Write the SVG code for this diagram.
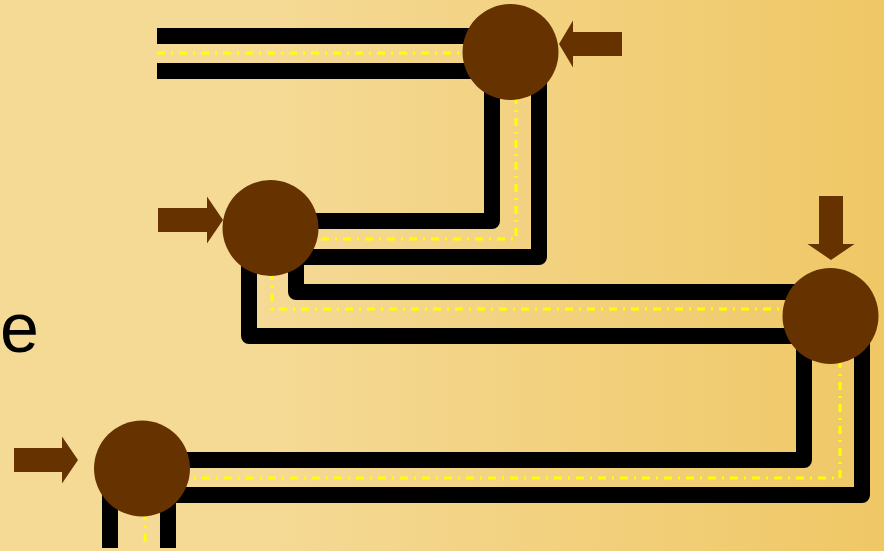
<svg xmlns="http://www.w3.org/2000/svg" width="884" height="551" viewBox="0 0 884 551">
  <defs>
    <linearGradient id="bg" x1="0" y1="0" x2="884" y2="0" gradientUnits="userSpaceOnUse">
      <stop offset="0" stop-color="#F5DA95"/>
      <stop offset="0.3" stop-color="#F5DA96"/>
      <stop offset="1" stop-color="#EFC765"/>
    </linearGradient>
    <style>
      .wall { fill: none; stroke: #000000; stroke-width: 16; stroke-linejoin: round; stroke-linecap: butt; }
      .axis { fill: none; stroke: #FFFF00; stroke-width: 3; stroke-dasharray: 8 6 2 6; }
      .node { fill: #663300; }
      .arrow { fill: #663300; }
      .label { font-family: "Liberation Sans", Arial, sans-serif; font-size: 70px; fill: #000000; }
    </style>
  </defs>
  <rect x="0" y="0" width="884" height="551" fill="url(#bg)"/>
  <text class="label" x="0" y="352">e</text>
  <g id="connectors">
    <!-- top pipe -->
    <path class="wall" d="M157 36 H511"/>
    <path class="wall" d="M157 71 H511"/>
    <path class="axis" d="M157 53 H511"/>
    <!-- pipe 1: top node to node 2 -->
    <path class="wall" d="M492 52 V221 H270"/>
    <path class="wall" d="M539 52 V257 H270"/>
    <path class="axis" d="M516 52 V239 H270"/>
    <!-- pipe 2: node 2 to node 3 -->
    <path class="wall" d="M296 228 V292 H830"/>
    <path class="wall" d="M249 228 V336 H830"/>
    <path class="axis" d="M272 228 V309 H830"/>
    <!-- pipe 3: node 3 to node 4 -->
    <path class="wall" d="M804 316 V460 H142"/>
    <path class="wall" d="M862 316 V495 H142"/>
    <path class="axis" d="M840 316 V478 H142"/>
    <!-- bottom pipe -->
    <path class="wall" d="M110 468 V548"/>
    <path class="wall" d="M168 468 V548"/>
    <path class="axis" d="M145 468 V548"/>
  </g>
  <g id="arrows">
    <polygon class="arrow" points="559,44 573,20.5 573,32 622,32 622,56 573,56 573,67.5"/>
    <polygon class="arrow" points="223,220 207,196.5 207,208 158,208 158,232 207,232 207,243.5"/>
    <polygon class="arrow" points="831,260 807.5,244 819,244 819,196 843,196 843,244 854.5,244"/>
    <polygon class="arrow" points="78,460 62,436.5 62,448 14,448 14,472 62,472 62,483.5"/>
  </g>
  <g id="node-1"><circle class="node" cx="510.5" cy="52" r="48"/></g>
  <g id="node-2"><circle class="node" cx="270.5" cy="228" r="48"/></g>
  <g id="node-3"><circle class="node" cx="830.5" cy="316" r="48"/></g>
  <g id="node-4"><circle class="node" cx="142" cy="468.5" r="48"/></g>
</svg>
